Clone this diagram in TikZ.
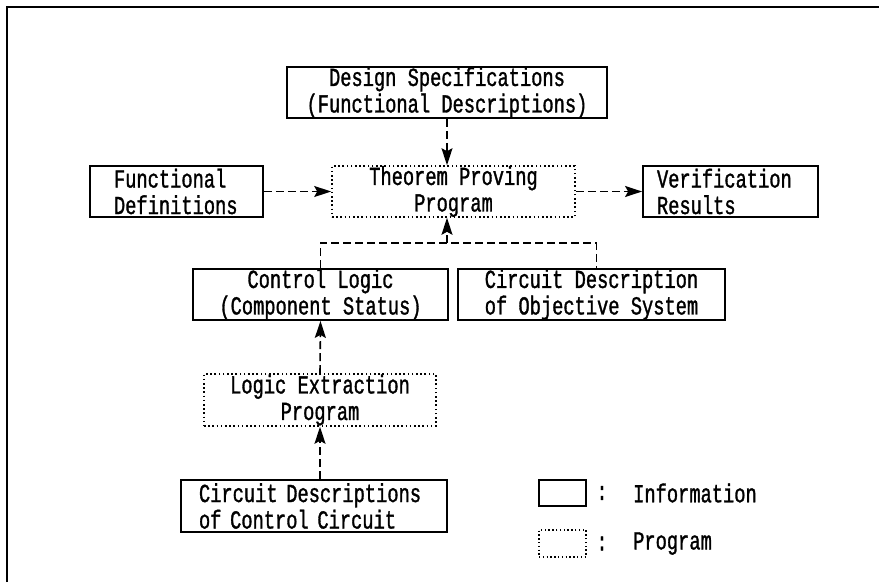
\documentclass[tikz,border=0pt]{standalone}
\usepackage{fontspec}
\setmonofont{Liberation Mono}[FakeStretch=0.72,FakeBold=1.2]
\usetikzlibrary{arrows.meta}
\newcommand{\diafont}{\ttfamily\fontsize{26}{26.5}\selectfont}
\tikzset{
  info/.style={draw, line width=1.8pt, inner sep=0pt, minimum height=51pt, font=\diafont},
  prog/.style={draw, line width=1.6pt, dash pattern=on 1.6pt off 2.6pt, inner sep=0pt, minimum height=51pt, font=\diafont},
  flow/.style={line width=1.6pt, dash pattern=on 8pt off 4pt, -{Stealth[length=17pt,width=11pt,inset=3pt]}},
  link/.style={line width=1.6pt, dash pattern=on 8pt off 4pt},
  lbl/.style={font=\diafont, inner sep=0pt}
}
\begin{document}
\begin{tikzpicture}[x=1pt,y=-1pt]
\useasboundingbox (0,0) rectangle (879,582);
\fill[white] (0,0) rectangle (879,582);
\draw[line width=2.2pt] (7,582) -- (7,7) -- (879,7);
% nodes
\node[info, minimum width=320pt, align=center] (des) at (447,92.5) {Design Specifications\\(Functional Descriptions)};
\node[info, minimum width=173pt, text width=125pt, align=left] (fd) at (176.5,191.5) {Functional\\Definitions};
\node[prog, minimum width=243pt, align=center] (tp) at (453.5,191.5) {Theorem Proving\\Program};
\node[info, minimum width=175pt, text width=147pt, align=left] (vr) at (730.5,191.5) {Verification\\Results};
\node[info, minimum width=255pt, align=center] (cl) at (320.5,294.5) {Control Logic\\(Component Status)};
\node[info, minimum width=267pt, align=center] (cd) at (591.5,294.5) {Circuit Description\\of Objective System};
\node[prog, minimum width=232pt, minimum height=52pt, align=center] (le) at (320,400) {Logic Extraction\\Program};
\node[info, minimum width=266pt, minimum height=52pt, text width=230pt, align=left] (cc) at (314,506) {Circuit Descriptions\\of Control Circuit};
% legend
\node[draw, line width=1.8pt, minimum width=47pt, minimum height=26pt, inner sep=0pt] (li) at (562.5,493) {};
\node[draw, line width=1.4pt, dash pattern=on 1.4pt off 2.4pt, minimum width=47pt, minimum height=27pt, inner sep=0pt] (lp) at (562.5,543.5) {};
\node[lbl] (lic) at (602,493) {:};
\node[lbl] (lpc) at (602,543.5) {:};
\node[lbl, anchor=west] (lit) at (633,493) {Information};
\node[lbl, anchor=west] (lpt) at (633,543.5) {Program};
% connectors
\coordinate (j) at (447,243);
\draw[flow] (des.south) -- (des.south |- tp.north);
\draw[flow] (fd.east) -- (tp.west);
\draw[flow] (tp.east) -- (vr.west);
\draw[link] (cl.north) -- (cl.north |- j) -- ([xshift=5pt]j -| cd.north) -- ([xshift=5pt]cd.north);
\draw[flow] (j) -- (j |- tp.south);
\draw[flow] (le.north) -- (cl.south);
\draw[flow] (le.south |- cc.north) -- (le.south);
\end{tikzpicture}
\end{document}
